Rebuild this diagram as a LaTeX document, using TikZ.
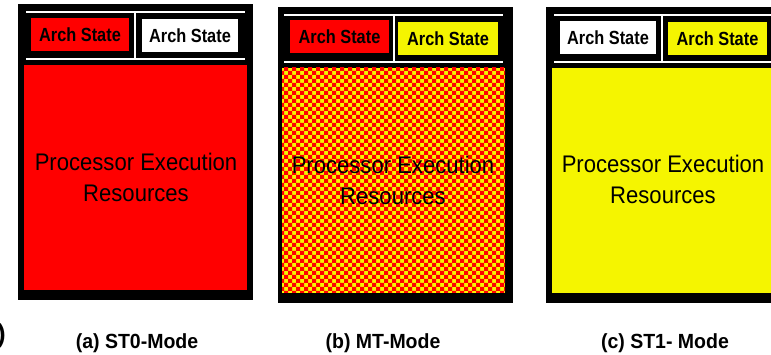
\documentclass[tikz,border=0pt]{standalone}
\usepackage{fontspec}
\setmainfont{Liberation Sans}
\usepackage{xcolor}
\usetikzlibrary{patterns}

\definecolor{stred}{RGB}{255,0,0}
\definecolor{styellow}{RGB}{245,245,0}

% red squares on a 4pt grid, laid over a yellow fill
\pgfdeclarepatternformonly{mtcheck}{\pgfqpoint{-1pt}{-1pt}}{\pgfqpoint{9pt}{9pt}}{\pgfqpoint{8pt}{8pt}}{%
  \pgfpathrectangle{\pgfpointorigin}{\pgfqpoint{4pt}{4pt}}%
  \pgfpathrectangle{\pgfqpoint{4pt}{4pt}}{\pgfqpoint{4pt}{4pt}}%
  \pgfusepath{fill}}

\begin{document}
\begin{tikzpicture}[x=1pt,y=-1pt,
  shell/.style={fill=black},
  rule/.style={draw=white,line width=1.6pt},
  arch/.style={inner sep=0pt,minimum height=33pt,
               font=\bfseries\fontsize{19}{19}\selectfont,xscale=.86},
  exec/.style={align=center,font=\fontsize{24}{31}\selectfont,xscale=.92},
  caption/.style={font=\bfseries\fontsize{19.5}{19.5}\selectfont,yscale=1.05}]
\useasboundingbox (0,0) rectangle (771,355);

% (a) ST0 mode: everything belongs to thread 0
\fill[shell] (18,4) rectangle (253,300);
\fill[stred] (24,65) rectangle (247,290);
\draw[rule] (26,12) -- (245,12) (26,59) -- (245,59) (135,12) -- (135,59);
\node[arch,fill=stred,minimum width=98pt/.86] (a0) at (80,35) {Arch State};
\node[arch,fill=white,minimum width=96pt/.86] (a1) at (190,36) {Arch State};
\node[exec] (ares) at (136,177) {Processor Execution\\Resources};
\node[caption] (acap) at (137,343) {(a) ST0-Mode};

% (b) MT mode: resources shared by both threads
\fill[shell] (278,7) rectangle (513,303);
\fill[styellow] (282,68) rectangle (505,293);
\fill[pattern=mtcheck,pattern color=stred] (282,68) rectangle (505,293);
\draw[rule] (284,15) -- (503,15) (284,62) -- (503,62) (394,15) -- (394,62);
\node[arch,fill=stred,minimum width=99pt/.86] (b0) at (339.5,37) {Arch State};
\node[arch,fill=styellow,minimum width=100pt/.86] (b1) at (448,38.5) {Arch State};
\node[exec] (bres) at (393,180) {Processor Execution\\Resources};
\node[caption] (bcap) at (383,343) {(b) MT-Mode};

% (c) ST1 mode: everything belongs to thread 1
\fill[shell] (546,7) rectangle (780,303);
\fill[styellow] (552,68) rectangle (780,293);
\draw[rule] (554,15) -- (771,15) (554,62) -- (771,62) (662,15) -- (662,62);
\node[arch,fill=white,minimum width=96pt/.86] (c0) at (608,38) {Arch State};
\node[arch,fill=styellow,minimum width=99pt/.86] (c1) at (717.5,38.5) {Arch State};
\node[exec] (cres) at (663,179) {Processor Execution\\Resources};
\node[caption] (ccap) at (665,343) {(c) ST1- Mode};

\node[font=\bfseries\fontsize{26}{26}\selectfont,anchor=east,inner sep=0pt] (edge) at (6,336) {)};
\end{tikzpicture}
\end{document}
